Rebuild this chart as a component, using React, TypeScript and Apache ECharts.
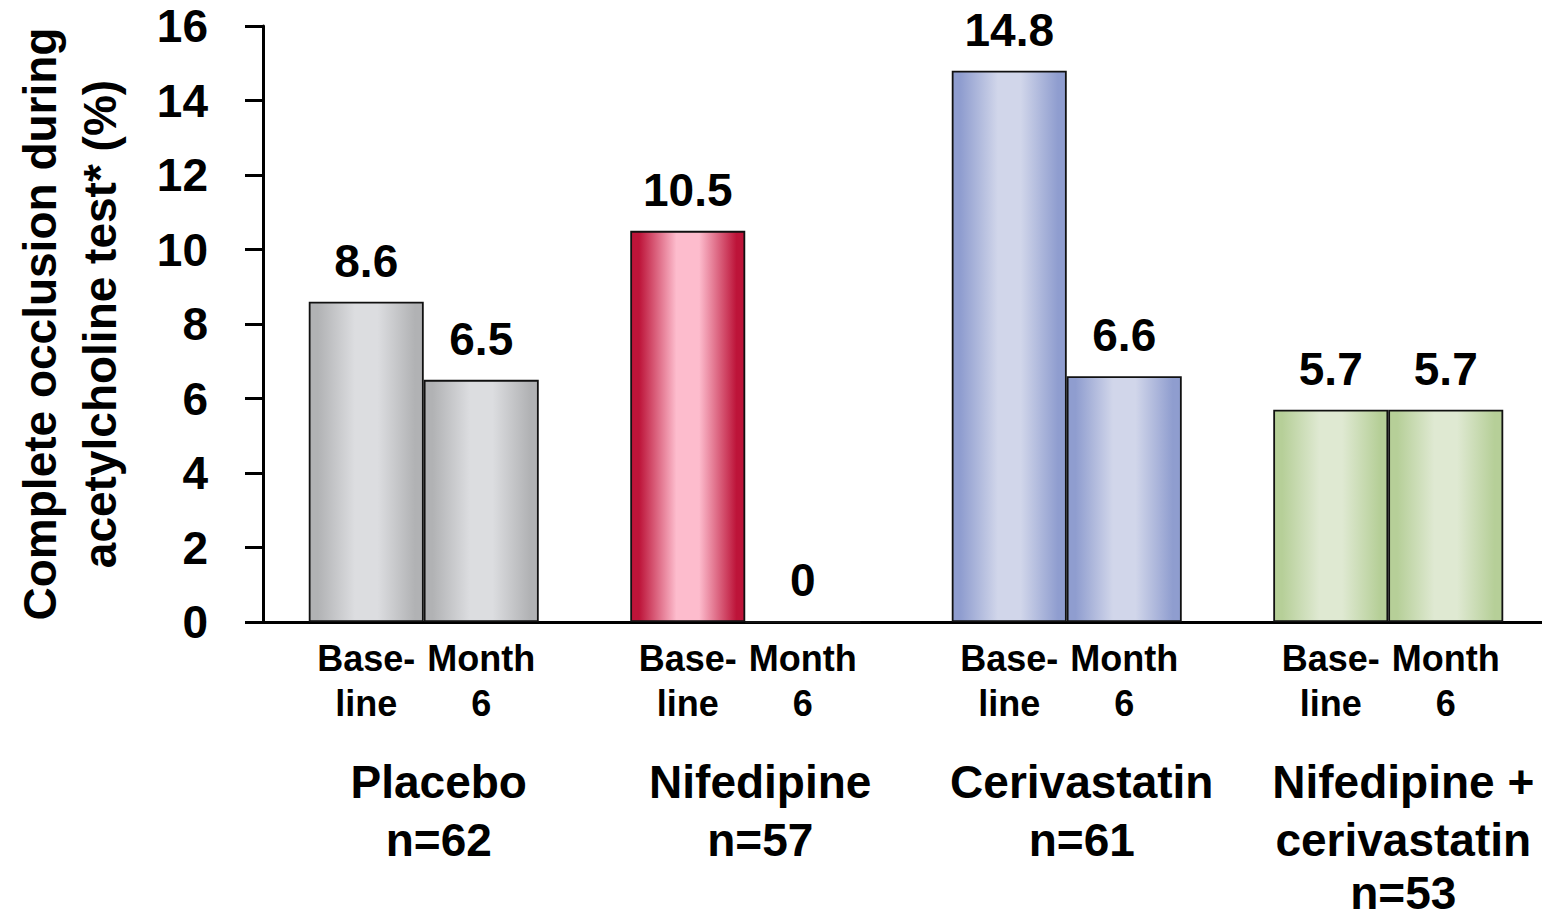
import React, { useEffect, useRef } from "react";
import * as echarts from "echarts";

const groupNames = ["Placebo", "Nifedipine", "Cerivastatin", "Nifedipine +|cerivastatin"];
const groupN = ["n=62", "n=57", "n=61", "n=53"];
const baseline = [8.6, 10.5, 14.8, 5.7];
const month6 = [6.5, 0, 6.6, 5.7];
const subLabelsTop = ["Base-", "Month"];
const subLabelsBottom = ["line", "6"];
const yTitle = ["Complete occlusion during", "acetylcholine test* (%)"];
const edgeColors = ["#b1b2b4", "#bd1439", "#8f9dcf", "#b6cf98"];
const midColors = ["#dcdde0", "#fdbccd", "#d1d6ea", "#dfe9d2"];
const yMin = 0;
const yMax = 16;
const yStep = 2;

const FONT = "'Liberation Sans', Arial, Helvetica, sans-serif";

function grad(i: number) {
  const e = edgeColors[i];
  const m = midColors[i];
  return new echarts.graphic.LinearGradient(0, 0, 1, 0, [
    { offset: 0, color: e },
    { offset: 0.07, color: e },
    { offset: 0.4, color: m },
    { offset: 0.6, color: m },
    { offset: 0.93, color: e },
    { offset: 1, color: e },
  ]);
}

export default function App() {
  const ref = useRef<HTMLDivElement>(null);
  useEffect(() => {
    if (!ref.current) return;
    const chart = echarts.init(ref.current, undefined, { renderer: "svg" });
    const labelStyle = {
      show: true,
      position: "top",
      distance: 18,
      fontSize: 46,
      fontWeight: "bold",
      color: "#000",
      fontFamily: FONT,
    };
    const mkData = (vals: number[]) =>
      vals.map((v, i) => ({
        value: v,
        itemStyle: { color: grad(i), borderColor: "#111", borderWidth: 1.8 },
      }));
    chart.setOption({
      animation: false,
      backgroundColor: "#fff",
      textStyle: { fontFamily: FONT },
      grid: { left: 263, right: -7, top: 26, bottom: 298, containLabel: false, outerBoundsMode: "none" },
      xAxis: [
        {
          type: "category",
          data: groupNames,
          axisLine: { show: true, lineStyle: { color: "#000", width: 3 } },
          axisTick: { show: false },
          axisLabel: {
            margin: 14,
            interval: 0,
            formatter: () =>
              `{s|${subLabelsTop[0]}}{s|${subLabelsTop[1]}}\n{s|${subLabelsBottom[0]}}{s|${subLabelsBottom[1]}}`,
            rich: {
              s: {
                fontSize: 36,
                fontWeight: "bold",
                color: "#000",
                fontFamily: FONT,
                lineHeight: 45,
                width: 115,
                align: "center",
              },
            },
          },
        },
        {
          type: "category",
          data: groupNames,
          position: "bottom",
          axisLine: { show: false },
          axisTick: { show: false },
          axisLabel: {
            margin: 131,
            interval: 0,
            formatter: (val: string, idx: number) => {
              const lines = [...val.split("|"), groupN[idx]];
              return lines
                .map((t, k) =>
                  lines.length === 3 && k === 2 ? `{pl| }{gl|${t}}` : `{p| }{g|${t}}`
                )
                .join("\n");
            },
            rich: {
              g: {
                fontSize: 46,
                fontWeight: "bold",
                color: "#000",
                fontFamily: FONT,
                lineHeight: 58,
                align: "center",
              },
              gl: {
                fontSize: 46,
                fontWeight: "bold",
                color: "#000",
                fontFamily: FONT,
                lineHeight: 48,
                align: "center",
              },
              p: { width: 30, fontSize: 10, lineHeight: 58, align: "center" },
              pl: { width: 30, fontSize: 10, lineHeight: 48, align: "center" },
            },
          },
        },
      ],
      yAxis: {
        type: "value",
        min: yMin,
        max: yMax,
        interval: yStep,
        name: yTitle.join("\n"),
        nameLocation: "middle",
        nameGap: 133,
        nameTextStyle: {
          fontSize: 46,
          fontWeight: "bold",
          color: "#000",
          fontFamily: FONT,
          lineHeight: 60,
        },
        axisLine: { show: true, lineStyle: { color: "#000", width: 3 } },
        axisTick: { show: true, length: 18, lineStyle: { color: "#000", width: 3 } },
        axisLabel: { margin: 55, fontSize: 46, fontWeight: "bold", color: "#000", fontFamily: FONT },
        splitLine: { show: false },
      },
      series: [
        {
          name: "Baseline",
          type: "bar",
          xAxisIndex: 0,
          barWidth: 115,
          barGap: "0%",
          data: mkData(baseline),
          label: labelStyle,
        },
        {
          name: "Month 6",
          type: "bar",
          xAxisIndex: 0,
          barWidth: 115,
          barGap: "0%",
          data: mkData(month6),
          label: labelStyle,
        },
      ],
    });
    return () => chart.dispose();
  }, []);
  return (
    <div
      ref={ref}
      style={{ position: "absolute", left: 0, top: 0, width: 1542, height: 920, background: "#fff" }}
    />
  );
}
